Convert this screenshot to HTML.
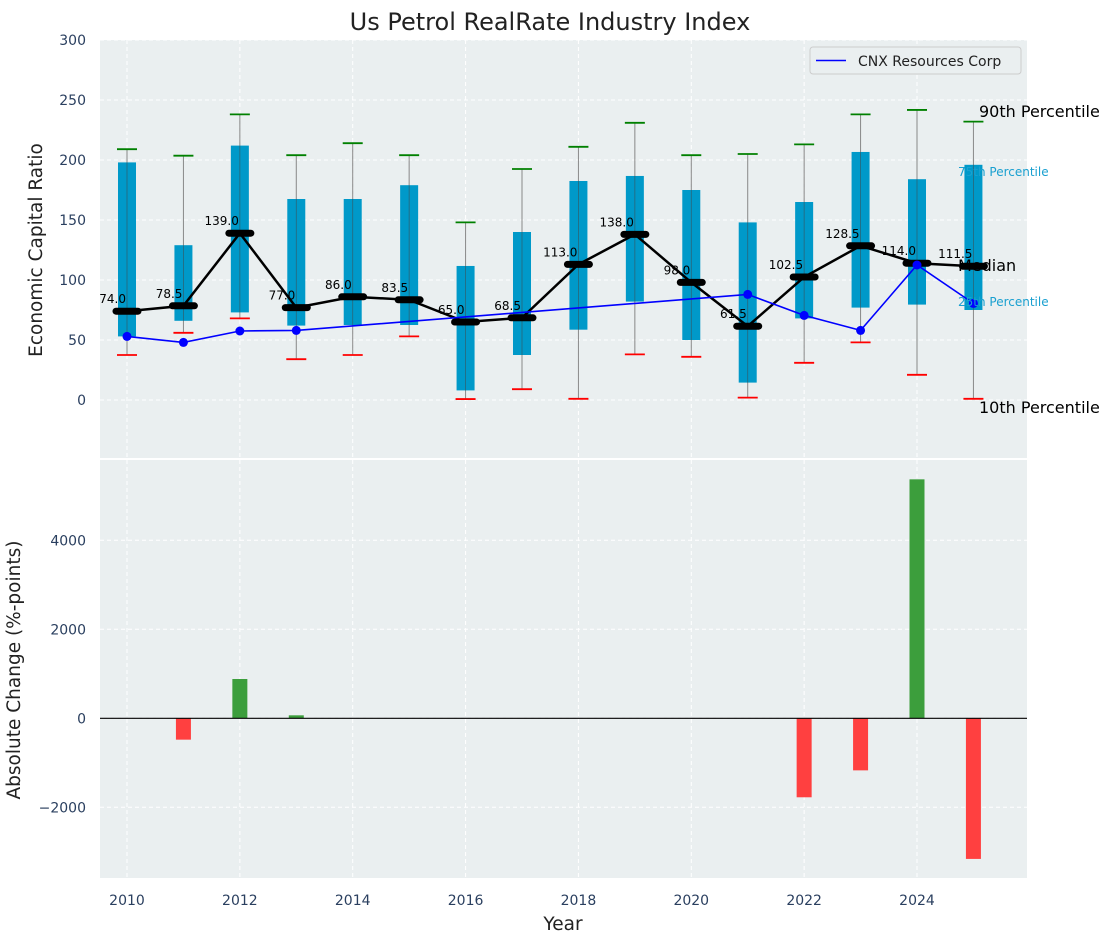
<!DOCTYPE html>
<html><head><meta charset="utf-8"><style>
body{margin:0;background:#fff;font-family:"Liberation Sans","DejaVu Sans",sans-serif}
svg text{font-family:"DejaVu Sans","Liberation Sans",sans-serif}
</style></head><body>
<svg id="c" width="1114" height="942" xmlns="http://www.w3.org/2000/svg"></svg>
<script>
const years=[2010,2011,2012,2013,2014,2015,2016,2017,2018,2019,2020,2021,2022,2023,2024,2025];
const p90=[209,203.6,238,204,214,204,148,192.5,211,231,204,205,213,238,241.7,232];
const p75=[198,129,212,167.5,167.5,179,111.7,140,182.5,186.7,175,148,165,206.7,184,196];
const median=[74,78.5,139,77,86,83.5,65,68.5,113,138,98,61.5,102.5,128.5,114,111.5];
const p25=[53,66,73,62,62.5,62.5,8,37.5,58.6,82,50,14.5,68,77,79.5,75];
const p10=[37.5,56,68,34,37.5,53,0.8,9,1,38,36,2,31,48,21,1];
const cnx=[53,48,57.5,58,null,null,null,null,null,null,null,88,70.5,58,112.5,80.5];
const changes=[0,-480,883,67,0,0,0,0,0,0,0,0,-1775,-1170,5370,-3160];
const topTicks=[0,50,100,150,200,250,300];
const botTicks=[-2000,0,2000,4000];
const xTicks=[2010,2012,2014,2016,2018,2020,2022,2024];

const svg=document.getElementById('c');const NS='http://www.w3.org/2000/svg';
function el(t,a,txt,p){const e=document.createElementNS(NS,t);for(const k in a)e.setAttribute(k,a[k]);if(txt!=null)e.textContent=txt;(p||svg).appendChild(e);return e;}
const L=100,R=1027;
const x=v=>127+(v-2010)*(917-127)/14;
const yT=v=>400-v*1.2;
const yB=v=>718.3-v*0.0445;
let e;
e=el('rect',{x:L,y:40,width:R-L,height:418,fill:'#eaeff0'});

e=el('rect',{x:L,y:460,width:R-L,height:418,fill:'#eaeff0'});

topTicks.forEach(t=>{el('line',{x1:L,x2:R,y1:yT(t),y2:yT(t),stroke:'#fff','stroke-dasharray':'4,3','stroke-width':1});
 e=el('text',{x:86,y:yT(t)+5,'text-anchor':'end','font-size':14,fill:'#2a3f5f'},t);
 });
botTicks.forEach(t=>{el('line',{x1:L,x2:R,y1:yB(t),y2:yB(t),stroke:'#fff','stroke-dasharray':'4,3','stroke-width':1});
 e=el('text',{x:86,y:yB(t)+5,'text-anchor':'end','font-size':14,fill:'#2a3f5f'},t<0?'\u2212'+(-t):t);
 });
xTicks.forEach(t=>{el('line',{x1:x(t),x2:x(t),y1:40,y2:458,stroke:'#fff','stroke-dasharray':'4,3'});
 el('line',{x1:x(t),x2:x(t),y1:460,y2:878,stroke:'#fff','stroke-dasharray':'4,3'});
 e=el('text',{x:x(t),y:905,'text-anchor':'middle','font-size':14,fill:'#2a3f5f'},t);
 });
years.forEach((yr,i)=>{const cx=x(yr);
 e=el('line',{x1:cx,x2:cx,y1:yT(p90[i]),y2:yT(p10[i]),stroke:'#888','stroke-width':1});
 
 e=el('rect',{x:cx-9,y:yT(p75[i]),width:18,height:yT(p25[i])-yT(p75[i]),fill:'#0099c9'});
 
 el('line',{x1:cx,x2:cx,y1:yT(p75[i]),y2:yT(p25[i]),stroke:'#444','stroke-width':0.8,opacity:0.6});
 e=el('line',{x1:cx-10,x2:cx+10,y1:yT(p90[i]),y2:yT(p90[i]),stroke:'green','stroke-width':1.8});
 
 e=el('line',{x1:cx-10,x2:cx+10,y1:yT(p10[i]),y2:yT(p10[i]),stroke:'red','stroke-width':1.8});
 
});
e=el('polyline',{points:years.map((yr,i)=>x(yr)+','+yT(median[i])).join(' '),fill:'none',stroke:'#000','stroke-width':2.5});

years.forEach((yr,i)=>{const cx=x(yr),cy=yT(median[i]);
 e=el('line',{x1:cx-11,x2:cx+11,y1:cy,y2:cy,stroke:'#000','stroke-width':7,'stroke-linecap':'round'});
 
 e=el('text',{x:cx-1,y:cy-8,'text-anchor':'end','font-size':12,fill:'#000'},median[i].toFixed(1));
 });
const pts=[];years.forEach((yr,i)=>{if(cnx[i]!=null)pts.push([x(yr),yT(cnx[i])]);});
e=el('polyline',{points:pts.map(p=>p.join(',')).join(' '),fill:'none',stroke:'#0000ff','stroke-width':1.6});

pts.forEach(p=>{e=el('circle',{cx:p[0],cy:p[1],r:4.5,fill:'#0000ff'});
 });
[['90th Percentile',979,117,16,'#000'],['75th Percentile',958,176,12,'#1aa0d0'],['Median',958,271,16,'#000'],['25th Percentile',958,306,12,'#1aa0d0'],['10th Percentile',979,413,16,'#000']].forEach(a=>{
 e=el('text',{x:a[1],y:a[2],'font-size':a[3],fill:a[4]},a[0]);
 });
const lg=el('g',{});
el('rect',{x:810,y:47,width:211,height:27,rx:3,fill:'#eaeff0',stroke:'#ccc'},null,lg);
el('line',{x1:816,x2:846,y1:60.5,y2:60.5,stroke:'#0000ff','stroke-width':1.6},null,lg);
el('text',{x:858,y:66,'font-size':14,fill:'#222'},'CNX Resources Corp',lg);
years.forEach((yr,i)=>{const v=changes[i];if(v===0)return;
 e=el('rect',{x:x(yr)-7.5,y:Math.min(yB(v),yB(0)),width:15,height:Math.abs(yB(v)-yB(0)),fill:v>0?'#3c9e3c':'#ff4040'});
 });
e=el('line',{x1:L,x2:R,y1:yB(0),y2:yB(0),stroke:'#000','stroke-width':1.2});

e=el('text',{x:550,y:30,'text-anchor':'middle','font-size':24,fill:'#222'},'Us Petrol RealRate Industry Index');

e=el('text',{x:0,y:0,'text-anchor':'middle','font-size':18.5,fill:'#222',transform:'translate(42,250) rotate(-90)'},'Economic Capital Ratio');

e=el('text',{x:0,y:0,'text-anchor':'middle','font-size':18.5,fill:'#222',transform:'translate(20,670) rotate(-90)'},'Absolute Change (%-points)');

e=el('text',{x:563,y:930,'text-anchor':'middle','font-size':18.5,fill:'#222'},'Year');

</script>
</body></html>
